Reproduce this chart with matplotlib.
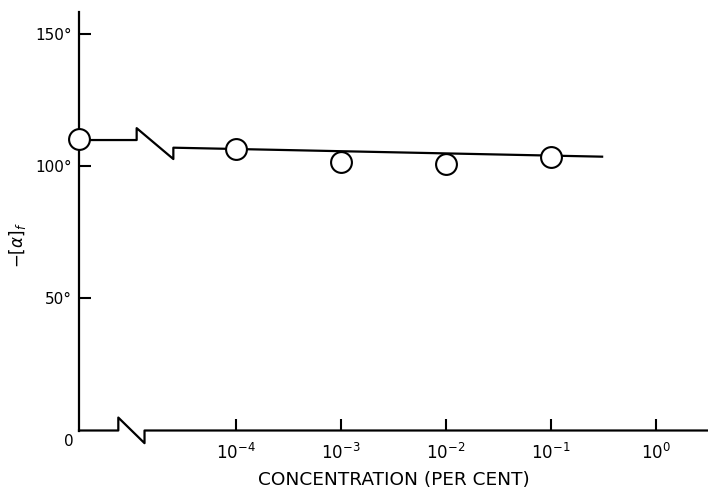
import numpy as np
import matplotlib.pyplot as plt
from matplotlib.lines import Line2D

# specific rotation vs concentration, log axis with a break near zero
conc = [1e-4, 1e-3, 1e-2, 1e-1]
rotation = [106.5, 101.6, 100.9, 103.7]
zero_rotation = 110.3

# hand drawn fit line
fit_zero = 110.0
fit_conc = [10 ** -4.6, 10 ** -0.51]
fit_rotation = [107.1, 103.7]

xtick_exp = [-4, -3, -2, -1, 0]
xtick_labels = ['$10^{%d}$' % e for e in xtick_exp]
ytick_vals = [50, 100, 150]
ytick_labels = ['50°', '100°', '150°']

zero_pos = -5.5        # where "0" concentration sits on the log10 axis
axis_break = (-5.125, -4.875)
line_break = (-4.95, -4.6)

fig = plt.figure(figsize=(7.08, 4.9), dpi=100)
ax = fig.add_axes([79 / 708, 59.5 / 490, 629 / 708, 418.8 / 490])

lc = np.log10(conc)
lfit = np.log10(fit_conc)

# fit line, with the zigzag break
fx = [zero_pos, line_break[0], line_break[0], line_break[1], line_break[1], lfit[1]]
fy = [fit_zero, fit_zero, fit_zero + 4.5, fit_rotation[0] - 4.3, fit_rotation[0], fit_rotation[1]]
ax.plot(fx, fy, color='black', lw=1.6, clip_on=False, zorder=2)

# points
ax.plot([zero_pos], [zero_rotation], 'o', ms=15, mfc='white', mec='black', mew=1.5,
        clip_on=False, zorder=3)
ax.plot(lc, rotation, 'o', ms=15, mfc='white', mec='black', mew=1.5,
        clip_on=False, zorder=3)

ax.set_xlim(zero_pos, 0.5)
ax.set_ylim(0, 158.6)

# x axis drawn by hand with the break
bx = [zero_pos, axis_break[0], axis_break[0], axis_break[1], axis_break[1], 0.5]
by = [0, 0, 4.9, -4.8, 0, 0]
ax.add_line(Line2D(bx, by, color='black', lw=1.6, clip_on=False))

for s in ['top', 'right', 'bottom']:
    ax.spines[s].set_visible(False)
ax.spines['left'].set_linewidth(1.6)

ax.set_xticks(xtick_exp)
ax.set_xticklabels(xtick_labels, fontsize=12)
ax.set_yticks(ytick_vals)
ax.set_yticklabels(ytick_labels, fontsize=11)
ax.tick_params(axis='x', direction='in', length=8.6, width=1.5, pad=9)
ax.tick_params(axis='y', direction='in', length=8.6, width=1.5, pad=5)

ax.annotate('0', xy=(zero_pos, 0), xytext=(-10, -11), textcoords='offset pixels',
            ha='center', va='center', fontsize=11, annotation_clip=False)

ax.set_xlabel('CONCENTRATION (PER CENT)', fontsize=13.3, labelpad=6)
fig.text(17 / 708, 1 - 245 / 490, r'$-[\alpha]_f$', rotation=90, fontsize=12,
         ha='center', va='center')

plt.savefig('out.png', dpi=100)
